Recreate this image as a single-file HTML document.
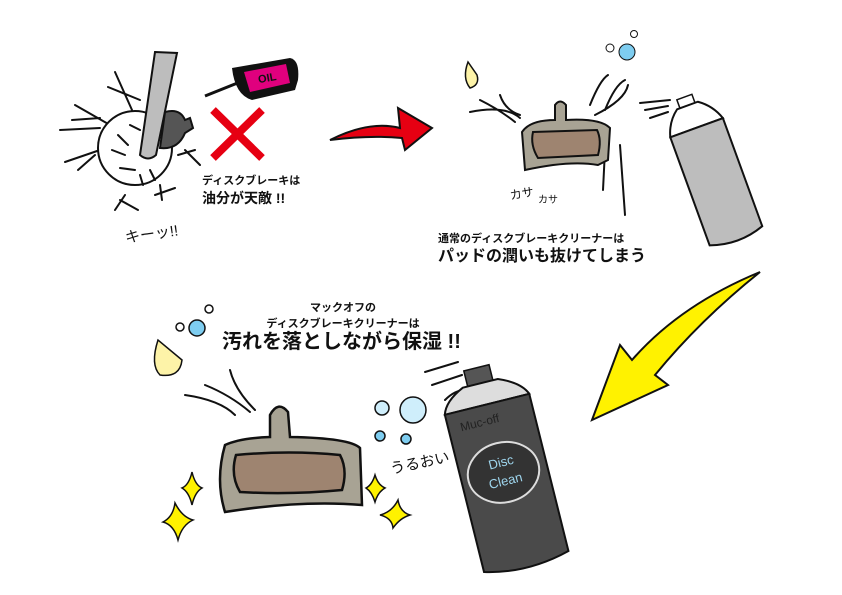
<!DOCTYPE html>
<html><head><meta charset="utf-8"><style>
body{margin:0;background:#fff;}
svg{display:block}
text{font-family:"Liberation Sans","Noto Sans CJK JP",sans-serif;font-weight:bold;fill:#111}
.l{fill:none;stroke:#111;stroke-width:2;stroke-linecap:round}
</style></head><body>
<svg width="842" height="595" viewBox="0 0 842 595" xmlns="http://www.w3.org/2000/svg">
<rect width="842" height="595" fill="#fff"/>
<!-- Top-left: disc with lever -->
<g class="l">
<path d="M115 72 L132 110 M108 87 L140 100 M75 105 L110 125 M72 120 L100 118 M65 162 L100 150 M78 170 L95 155 M125 195 L115 210 M120 200 L138 210 M160 185 L162 200 M155 195 L175 188 M178 155 L195 150 M185 150 L200 165 M100 128 L60 130"/>
</g>
<circle cx="135" cy="148" r="37" fill="#fff" stroke="#111" stroke-width="2"/>
<g class="l" stroke-width="1.5"><path d="M112 150 L125 155 M118 135 L128 145 M120 168 L135 170 M140 175 L143 185 M150 170 L155 180 M130 125 L140 130"/></g>
<path d="M155 52 L177 53 L156 155 Q148 162 140 155 Z" fill="#bdbdbd" stroke="#111" stroke-width="2"/>
<path d="M165 112 Q180 108 185 120 L190 118 L193 128 L185 133 Q178 150 160 148 Z" fill="#555" stroke="#111" stroke-width="2"/>
<!-- oil bottle -->
<path d="M205 96 L240 82" stroke="#111" stroke-width="3"/>
<path d="M232 68 L290 58 Q300 60 298 80 L295 90 L252 100 Q235 95 232 68Z" fill="#111"/>
<path d="M244 72 L286 64 L290 83 L250 92 Z" fill="#e0007e"/>
<text x="258" y="82" font-size="11" style="fill:#111" transform="rotate(-10 265 78)">OIL</text>
<!-- red X -->
<path d="M213 110 L262 158 M262 110 L213 158" stroke="#e60012" stroke-width="8"/>
<text x="202" y="184" font-size="11">ディスクブレーキは</text>
<text x="202" y="203" font-size="14">油分が天敵 !!</text>
<text x="125" y="240" font-size="15" style="font-weight:normal" transform="rotate(-8 145 235)">キーッ!!</text>
<!-- red arrow -->
<path d="M330 140 Q370 120 400 128 L398 108 L432 128 L405 150 L402 138 Q370 135 330 140Z" fill="#e60012" stroke="#111" stroke-width="2"/>
<!-- top right pad -->
<path d="M468 62 Q462 78 470 88 Q480 85 477 75 Z" fill="#fdf3a8" stroke="#111" stroke-width="1.5"/>
<g class="l" stroke-width="1.5"><path d="M470 112 Q505 105 520 118 M500 95 Q505 110 520 115 M480 100 Q500 110 515 122 M590 105 Q600 80 608 75 M605 110 Q615 85 625 80 M595 115 Q625 100 628 85 M640 103 L670 100 M645 110 L668 106 M650 118 L668 112 M605 150 L603 190 M620 145 L625 215"/></g>
<circle cx="610" cy="48" r="4" fill="#fff" stroke="#111"/><circle cx="627" cy="52" r="8" fill="#7ecdf0" stroke="#111"/><circle cx="634" cy="34" r="3.5" fill="#fff" stroke="#111"/>
<path d="M522 132 Q530 120 555 120 L555 105 Q560 98 566 105 L566 120 Q600 118 610 128 L608 160 L598 165 Q570 160 525 170 Z" fill="#a8a394" stroke="#111" stroke-width="2"/>
<path d="M533 132 L597 130 Q602 140 598 155 L538 158 Q530 145 533 132Z" fill="#9e8470" stroke="#111" stroke-width="2"/>
<text x="510" y="198" font-size="12" style="font-weight:normal" transform="rotate(-10 520 195)">カサ</text>
<text x="538" y="203" font-size="10" style="font-weight:normal">カサ</text>
<!-- gray can -->
<g transform="rotate(-20 712 170)">
<rect x="703" y="92" width="16" height="9" fill="#fff" stroke="#111" stroke-width="1.5"/>
<path d="M700 101 L722 101 Q735 110 740 125 L684 125 Q688 110 700 101Z" fill="#fff" stroke="#111" stroke-width="2"/>
<path d="M684 125 L740 125 L740 240 Q712 250 684 240 Z" fill="#bdbdbd" stroke="#111" stroke-width="2"/>
</g>
<text x="438" y="242" font-size="11">通常のディスクブレーキクリーナーは</text>
<text x="438" y="261" font-size="16">パッドの潤いも抜けてしまう</text>
<!-- yellow arrow -->
<path d="M760 272 Q700 320 655 375 L668 385 L592 420 L620 345 L632 360 Q680 305 760 272Z" fill="#fff200" stroke="#111" stroke-width="2"/>
<!-- bottom text -->
<text x="343" y="311" font-size="11" text-anchor="middle">マックオフの</text>
<text x="343" y="327" font-size="11" text-anchor="middle">ディスクブレーキクリーナーは</text>
<text x="222" y="348" font-size="20">汚れを落としながら保湿 !!</text>
<!-- bubbles -->
<circle cx="180" cy="327" r="4" fill="#fff" stroke="#111" stroke-width="1.5"/>
<circle cx="197" cy="328" r="8" fill="#7ecdf0" stroke="#111" stroke-width="1.5"/>
<circle cx="209" cy="309" r="4" fill="#fff" stroke="#111" stroke-width="1.5"/>
<path d="M158 340 Q150 365 160 375 Q180 378 182 360 Z" fill="#fdf3a8" stroke="#111" stroke-width="1.5"/>
<g class="l" stroke-width="1.5"><path d="M185 395 Q220 400 235 415 M205 385 Q230 395 250 412 M230 370 Q235 390 255 410 M425 372 L458 362 M432 385 L462 375 M445 400 Q455 390 465 390"/></g>
<circle cx="382" cy="408" r="7" fill="#cfeefb" stroke="#111" stroke-width="1.5"/>
<circle cx="413" cy="410" r="13" fill="#cfeefb" stroke="#111" stroke-width="1.5"/>
<circle cx="380" cy="436" r="5" fill="#7ecdf0" stroke="#111" stroke-width="1.5"/>
<circle cx="406" cy="439" r="5" fill="#7ecdf0" stroke="#111" stroke-width="1.5"/>
<text x="390" y="470" font-size="15" style="font-weight:normal" transform="rotate(-12 410 465)">うるおい</text>
<!-- bottom pad -->
<path d="M225 445 Q240 438 270 437 L270 415 Q278 400 288 412 L290 437 Q350 438 360 448 L362 505 Q300 500 225 512 Q215 480 225 445Z" fill="#a8a394" stroke="#111" stroke-width="2.5"/>
<path d="M236 455 Q290 450 340 455 Q348 470 342 490 Q290 495 240 492 Q230 475 236 455Z" fill="#9e8470" stroke="#111" stroke-width="2.5"/>
<!-- sparkles -->
<g fill="#fff200" stroke="#111" stroke-width="1.5">
<path d="M192 472 Q195 485 202 488 Q195 492 192 505 Q189 492 182 488 Q189 485 192 472Z"/>
<path d="M175 503 Q182 517 193 520 Q182 525 178 540 Q174 525 163 522 Q173 517 175 503Z"/>
<path d="M375 475 Q378 485 385 488 Q378 492 375 502 Q372 492 366 488 Q372 485 375 475Z"/>
<path d="M398 500 Q400 512 410 515 Q400 518 393 528 Q392 518 380 515 Q392 512 398 500Z"/>
</g>
<!-- black can -->
<g transform="rotate(-14 520 460)">
<rect x="487" y="360" width="26" height="16" fill="#555" stroke="#111" stroke-width="1.5"/>
<path d="M482 376 L518 376 Q540 385 545 398 L458 398 Q462 385 482 376Z" fill="#ddd" stroke="#111" stroke-width="2"/>
<path d="M458 398 L545 398 L545 560 Q500 572 458 560 Z" fill="#4a4a4a" stroke="#111" stroke-width="2"/>
<text x="470" y="418" font-size="12" style="fill:#222;font-weight:normal">Muc-off</text>
<ellipse cx="501" cy="468" rx="36" ry="30" fill="#333" stroke="#ddd" stroke-width="2"/>
<text x="501" y="462" font-size="13" text-anchor="middle" style="fill:#9fd6ee;font-weight:normal">Disc</text>
<text x="501" y="481" font-size="13" text-anchor="middle" style="fill:#9fd6ee;font-weight:normal">Clean</text>
</g>
</svg>
</body></html>
